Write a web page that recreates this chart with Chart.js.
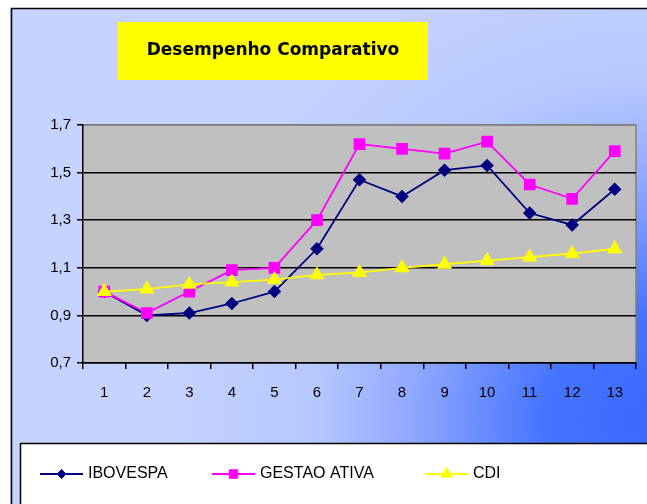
<!DOCTYPE html>
<html>
<head>
<meta charset="utf-8">
<script src="https://cdn.jsdelivr.net/npm/chart.js@4"></script>
<style>
  html, body { margin: 0; padding: 0; background: #fff; }
  #wrap { width: 647px; height: 504px; position: relative; }
</style>
</head>
<body>
<div id="wrap"><canvas id="chart" width="647" height="504"></canvas></div>
<script>
// dados
const periodos = ['1', '2', '3', '4', '5', '6', '7', '8', '9', '10', '11', '12', '13'];
const ibovespa = [1.00, 0.90, 0.91, 0.95, 1.00, 1.18, 1.47, 1.40, 1.51, 1.53, 1.33, 1.28, 1.43];
const gestaoAtiva = [1.00, 0.91, 1.00, 1.09, 1.10, 1.30, 1.62, 1.60, 1.58, 1.63, 1.45, 1.39, 1.59];
const cdi = [1.00, 1.01, 1.03, 1.04, 1.05, 1.07, 1.08, 1.10, 1.115, 1.13, 1.145, 1.16, 1.18];
const yTicks = [0.7, 0.9, 1.1, 1.3, 1.5, 1.7];

const titulo = 'Desempenho Comparativo';
const legenda = [
  { label: 'IBOVESPA', color: '#000080', style: 'rectRot', r: 4.5, x: 40 },
  { label: 'GESTAO ATIVA', color: '#ff00ff', style: 'rect', r: 6, x: 212 },
  { label: 'CDI', color: '#ffff00', style: 'triangle', r: 6.5, x: 425 }
];

// fundo, moldura, titulo e legenda desenhados a mao
const moldura = {
  id: 'moldura',
  beforeDraw(chart) {
    const ctx = chart.ctx;
    const W = chart.width, H = chart.height;
    ctx.save();
    ctx.fillStyle = '#fff';
    ctx.fillRect(0, 0, W, H);
    const g = ctx.createRadialGradient(650, 420, 0, 650, 420, 480);
    g.addColorStop(0, '#3c68ff');
    g.addColorStop(0.22, '#4674ff');
    g.addColorStop(0.5, '#90a8ff');
    g.addColorStop(0.7, '#b6c8ff');
    g.addColorStop(1, '#c6d2ff');
    ctx.fillStyle = g;
    ctx.fillRect(10, 8, W - 10, H - 8);
    ctx.strokeStyle = '#000';
    ctx.lineWidth = 1.5;
    ctx.strokeRect(11.5, 8.5, W + 10, H + 10);

    // caixa do titulo
    ctx.fillStyle = '#ffff00';
    ctx.fillRect(118, 22, 310, 58);
    ctx.fillStyle = '#000';
    ctx.font = 'bold 17px "DejaVu Sans"';
    ctx.textAlign = 'center';
    ctx.textBaseline = 'middle';
    ctx.fillText(titulo, 273, 51);

    // area do grafico
    const a = chart.chartArea;
    ctx.fillStyle = '#c0c0c0';
    ctx.fillRect(a.left, a.top, a.right - a.left, a.bottom - a.top);
    ctx.strokeStyle = '#808080';
    ctx.lineWidth = 1.5;
    ctx.beginPath();
    ctx.moveTo(a.left, a.top);
    ctx.lineTo(a.right, a.top);
    ctx.lineTo(a.right, a.bottom);
    ctx.stroke();

    // legenda
    ctx.fillStyle = '#fff';
    ctx.fillRect(20, 443, W, H);
    ctx.strokeStyle = '#000';
    ctx.lineWidth = 1.5;
    ctx.strokeRect(20.5, 443.5, W + 10, H);
    const ly = 474;
    ctx.font = '16px "Liberation Sans"';
    ctx.textAlign = 'left';
    legenda.forEach(item => {
      ctx.strokeStyle = item.color;
      ctx.lineWidth = 2;
      ctx.beginPath();
      ctx.moveTo(item.x, ly);
      ctx.lineTo(item.x + 43, ly);
      ctx.stroke();
      ctx.fillStyle = item.color;
      ctx.lineWidth = 1;
      Chart.helpers.drawPoint(ctx, {
        pointStyle: item.style, radius: item.r, borderWidth: 1
      }, item.x + 21.5, ly);
      ctx.fillStyle = '#000';
      ctx.fillText(item.label, item.x + 48, ly);
    });
    ctx.restore();
  }
};

function serie(label, data, color, style, r, order) {
  return {
    label: label,
    data: data,
    borderColor: color,
    backgroundColor: color,
    pointBackgroundColor: color,
    pointBorderColor: color,
    pointStyle: style,
    pointRadius: r,
    borderWidth: 1.8,
    tension: 0,
    order: order
  };
}

new Chart(document.getElementById('chart'), {
  type: 'line',
  data: {
    labels: periodos,
    datasets: [
      serie('IBOVESPA', ibovespa, '#000080', 'rectRot', 5.5, 3),
      serie('GESTAO ATIVA', gestaoAtiva, '#ff00ff', 'rect', 7, 2),
      serie('CDI', cdi, '#ffff00', 'triangle', 7, 1)
    ]
  },
  plugins: [moldura],
  options: {
    responsive: false,
    animation: false,
    layout: { padding: { left: 13, right: 11, top: 125, bottom: 101 } },
    plugins: {
      legend: { display: false },
      title: { display: false },
      tooltip: { enabled: false }
    },
    scales: {
      x: {
        offset: true,
        afterFit: s => { s.height = 40; },
        grid: {
          offset: true,
          drawOnChartArea: false,
          drawTicks: true,
          tickLength: 6,
          color: '#000',
          lineWidth: 1.5
        },
        border: { color: '#000', width: 1.5 },
        ticks: {
          color: '#000',
          font: { family: 'Liberation Sans', size: 15 },
          padding: 15,
          maxRotation: 0
        }
      },
      y: {
        min: 0.7,
        max: 1.7,
        afterFit: s => { s.width = 70; },
        afterBuildTicks: s => { s.ticks = yTicks.map(v => ({ value: v })); },
        grid: {
          color: ctx => (ctx.tick && ctx.tick.value === 1.7 ? '#808080' : '#000'),
          lineWidth: 1.5,
          tickLength: 6,
          tickColor: '#000'
        },
        border: { color: '#000', width: 1.5 },
        ticks: {
          color: '#000',
          font: { family: 'Liberation Sans', size: 15 },
          padding: 6,
          callback: v => v.toFixed(1).replace('.', ',')
        }
      }
    }
  }
});
</script>
</body>
</html>
